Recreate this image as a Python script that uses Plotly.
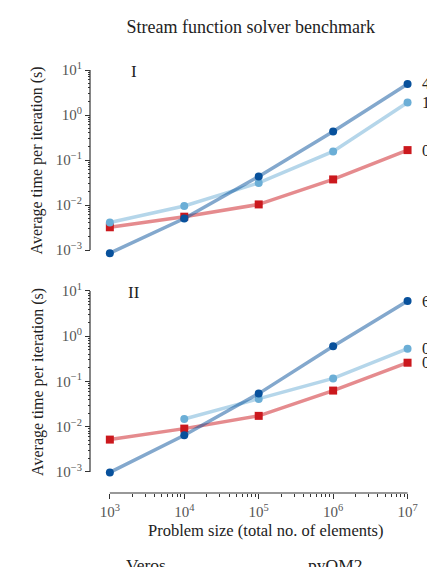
import math
import plotly.graph_objects as go

sizes = [1e3, 1e4, 1e5, 1e6, 1e7]
size_ticktext = ["10<sup>3</sup>", "10<sup>4</sup>", "10<sup>5</sup>", "10<sup>6</sup>", "10<sup>7</sup>"]
time_tickvals = [1e-3, 1e-2, 1e-1, 1e0, 1e1]
time_ticktext = ["10<sup>−3</sup>", "10<sup>−2</sup>", "10<sup>−1</sup>", "10<sup>0</sup>", "10<sup>1</sup>"]

I_dark = [0.00085, 0.0050, 0.043, 0.43, 4.9]
I_light = [0.0041, 0.0095, 0.031, 0.155, 1.9]
I_red = [0.0032, 0.0055, 0.0103, 0.037, 0.166]
II_dark = [0.00098, 0.0065, 0.054, 0.60, 6.0]
II_light = [None, 0.0148, 0.041, 0.117, 0.53]
II_red = [0.0052, 0.0091, 0.0174, 0.063, 0.26]

panel_names = ["I", "II"]
legend_labels = ["Veros", "pyOM2"]

DARK = "#08519c"; LIGHT = "#6baed6"; RED = "#cb181d"
DARK_L = "rgba(8,81,156,0.5)"; LIGHT_L = "rgba(107,174,214,0.5)"; RED_L = "rgba(203,24,29,0.5)"
SERIF = "Liberation Serif, Times New Roman, serif"

# pixel geometry
W, H = 427, 567
L = 90                     # paper left (y-axis spine)
XR = [2.9, 7.1]            # x range (log)
X3, X7 = 110, 410          # pixel of 1e3 and 1e7
xpd = (X7 - X3) / 4
xl = X3 - (3 - XR[0]) * xpd
xr = X7 + (XR[1] - 7) * xpd
R = W - xr
PW = xr - L
YR = [-3.2, 1.05]
TOP = 67                    # paper top
BOT = 493                   # paper bottom (x-axis spine)
PH = BOT - TOP

def py(p):
    return (BOT - p) / PH

def px(p):
    return (p - L) / PW

def ydom(p10, p_3):
    ypd = (p_3 - p10) / 4
    top = p10 - (YR[1] - 1) * ypd
    bot = p_3 + (-3 - YR[0]) * ypd
    return [py(bot), py(top)]

fig = go.Figure()

def add(xref, yref, ys, lc, mc, sym):
    fig.add_trace(go.Scatter(x=sizes, y=ys, xaxis=xref, yaxis=yref, mode="lines+markers",
                             line=dict(color=lc, width=3.5), marker=dict(color=mc, size=8, symbol=sym),
                             cliponaxis=False, showlegend=False, connectgaps=False))

add("x", "y", I_red, RED_L, RED, "square")
add("x", "y", I_light, LIGHT_L, LIGHT, "circle")
add("x", "y", I_dark, DARK_L, DARK, "circle")
add("x2", "y2", II_red, RED_L, RED, "square")
add("x2", "y2", II_light, LIGHT_L, LIGHT, "circle")
add("x2", "y2", II_dark, DARK_L, DARK, "circle")

minor_y = [m * 10 ** e for e in range(-3, 1) for m in range(2, 10)]
minor_x = [m * 10 ** e for e in range(3, 7) for m in range(2, 10)]

yax = dict(type="log", range=YR, anchor="free", position=0, showline=False,
           ticks="outside", ticklen=5, tickwidth=1.2, tickcolor="#333", tickvals=time_tickvals,
           ticktext=time_ticktext, showgrid=False, zeroline=False,
           tickfont=dict(family=SERIF, size=15, color="#555"),
           minor=dict(tickvals=minor_y, ticks="outside", ticklen=2.5, tickcolor="#333"))
xdom = [px(xl), 1]
fig.update_layout(
    width=W, height=H,
    margin=dict(l=L, r=R, t=TOP, b=H - BOT),
    paper_bgcolor="white", plot_bgcolor="white",
    title=dict(text="Stream function solver benchmark", x=px(252), xref="paper", y=1 - 27 / H,
               yref="container", xanchor="center", yanchor="middle",
               font=dict(family=SERIF, size=18, color="#222")),
    xaxis=dict(type="log", range=XR, domain=xdom, anchor="y", visible=False, matches="x2"),
    xaxis2=dict(type="log", range=XR, domain=xdom, anchor="free", position=0, showline=False,
                ticks="outside", ticklen=5, tickwidth=1.2, tickcolor="#333",
                tickvals=sizes, ticktext=size_ticktext, showgrid=False, zeroline=False,
                tickfont=dict(family=SERIF, size=15, color="#555"),
                minor=dict(tickvals=minor_x, ticks="outside", ticklen=2.5, tickcolor="#333")),
    yaxis=dict(domain=ydom(70, 250), **yax),
    yaxis2=dict(domain=ydom(291, 472), **yax),
)

line = dict(color="#333", width=1.2)
shapes = [
    dict(type="line", xref="paper", yref="paper", x0=0, x1=0, y0=py(250), y1=py(70), line=line),
    dict(type="line", xref="paper", yref="paper", x0=0, x1=0, y0=py(472), y1=py(291), line=line),
    dict(type="line", xref="paper", yref="paper", x0=px(X3), x1=px(X7), y0=0, y1=0, line=line),
]
fig.update_layout(shapes=shapes)

ann = []
for yc in [(70 + 250) / 2, (291 + 472) / 2]:
    ann.append(dict(text="Average time per iteration (s)", x=px(37), y=py(yc), xref="paper", yref="paper",
                    textangle=-90, showarrow=False, xanchor="center", yanchor="middle",
                    font=dict(family=SERIF, size=16, color="#222")))
ann.append(dict(text="Problem size (total no. of elements)", x=px(267), y=py(530), xref="paper", yref="paper",
                showarrow=False, xanchor="center", yanchor="middle", font=dict(family=SERIF, size=16.5, color="#222")))
for name, yc in zip(panel_names, [71, 292]):
    ann.append(dict(text=name, x=px(134), y=py(yc), xref="paper", yref="paper", showarrow=False,
                    xanchor="center", yanchor="middle", font=dict(family=SERIF, size=17, color="#222")))
for lab, xc in zip(legend_labels, [146, 337]):
    ann.append(dict(text=lab, x=px(xc), y=py(565), xref="paper", yref="paper", showarrow=False,
                    xanchor="center", yanchor="middle", font=dict(family=SERIF, size=17.5, color="#222")))
for ys, yr in [(I_dark, "y"), (I_light, "y"), (I_red, "y"), (II_dark, "y2"), (II_light, "y2"), (II_red, "y2")]:
    v = ys[-1]
    ann.append(dict(text=f"{v:.2g} s", x=7, y=math.log10(v), xref="x" if yr == "y" else "x2",
                    yref=yr, xshift=12, showarrow=False, xanchor="left", yanchor="middle",
                    font=dict(family=SERIF, size=16, color="#222")))
fig.update_layout(annotations=ann)

fig.write_html("out.html")
